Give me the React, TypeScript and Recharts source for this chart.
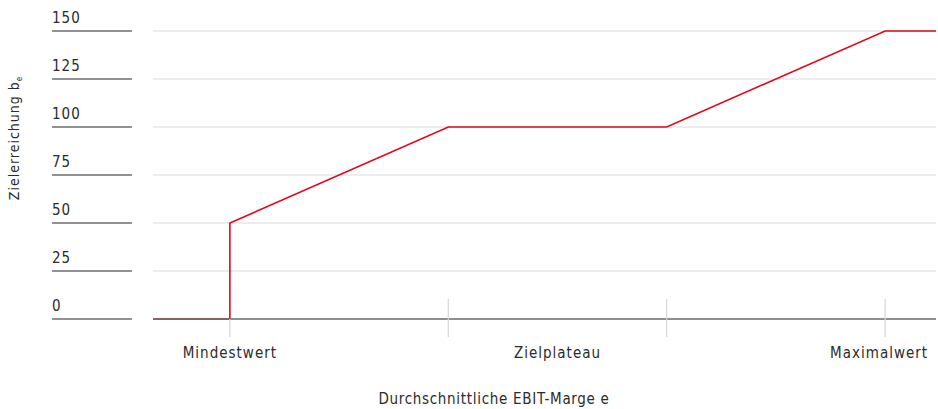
import React from "react";
import { LineChart, Line, XAxis, YAxis, CartesianGrid, Label } from "recharts";

const eValues = [0.648, 1, 1, 2, 3, 4, 4.233];
const bValues = [0, 0, 50, 100, 100, 150, 150];
const yTicks = [0, 25, 50, 75, 100, 125, 150];
const xTickPositions = [1, 2, 2.5, 3, 4];
const xTickLabels: Record<string, string> = { "1": "Mindestwert", "2.5": "Zielplateau", "4": "Maximalwert" };

const data = eValues.map((e, i) => ({ e, b: bValues[i] }));

const FONT = "'DejaVu Sans Condensed', 'DejaVu Sans', sans-serif";
const TEXT = "#2b2b2b";

const YTick = (props: any) => {
  const { y, payload } = props;
  return (
    <g>
      <line x1={52} x2={132} y1={y} y2={y} stroke="#6e6e6e" strokeWidth={1.6} />
      <text x={52} y={y - 8} fontSize={15} fill={TEXT} fontFamily={FONT} textAnchor="start" letterSpacing={1}>
        {payload.value}
      </text>
    </g>
  );
};

const XTick = (props: any) => {
  const { x, payload } = props;
  const v = payload.value;
  const label = xTickLabels[String(v)];
  const axisY = 319;
  const isMark = Number.isInteger(v);
  return (
    <g>
      {isMark && (
        <line x1={x} x2={x} y1={v === 1 ? axisY : axisY - 20} y2={axisY + 18} stroke="#d6d6d6" strokeWidth={1.2} />
      )}
      {label && (
        <text x={v === 4 ? x - 6 : x} y={358} fontSize={15} fill={TEXT} fontFamily={FONT} textAnchor="middle" letterSpacing={1}>
          {label}
        </text>
      )}
    </g>
  );
};

export default function App() {
  return (
    <div style={{ position: "absolute", left: 0, top: 0, width: 938, height: 409, background: "#fff" }}>
      <LineChart width={938} height={409} data={data} margin={{ top: 31, right: 2, bottom: 60, left: 0 }}>
        <CartesianGrid horizontal vertical={false} stroke="#dcdcdc" strokeWidth={1.2} />
        <XAxis
          dataKey="e"
          type="number"
          domain={[0.648, 4.233]}
          ticks={xTickPositions}
          interval={0}
          height={30}
          axisLine={{ stroke: "#6e6e6e", strokeWidth: 1.6 }}
          tickLine={false}
          tick={<XTick />}
          allowDataOverflow
        >
          <Label
            content={() => (
              <text x={494} y={404} fontSize={15} fill={TEXT} fontFamily={FONT} textAnchor="middle" letterSpacing={0.7}>
                Durchschnittliche EBIT-Marge e
              </text>
            )}
          />
        </XAxis>
        <YAxis
          type="number"
          domain={[0, 150]}
          ticks={yTicks}
          width={153}
          axisLine={false}
          tickLine={false}
          tick={<YTick />}
          interval={0}
        >
          <Label
            content={() => (
              <text
                x={19}
                y={138}
                transform="rotate(-90 19 138)"
                fontSize={14}
                fill={TEXT}
                fontFamily={FONT}
                textAnchor="middle"
                letterSpacing={1}
              >
                Zielerreichung b<tspan fontSize={8} dy={3}>e</tspan>
              </text>
            )}
          />
        </YAxis>
        <Line
          type="linear"
          dataKey="b"
          stroke="#e3061b"
          strokeWidth={1.6}
          dot={false}
          activeDot={false}
          isAnimationActive={false}
        />
      </LineChart>
    </div>
  );
}
